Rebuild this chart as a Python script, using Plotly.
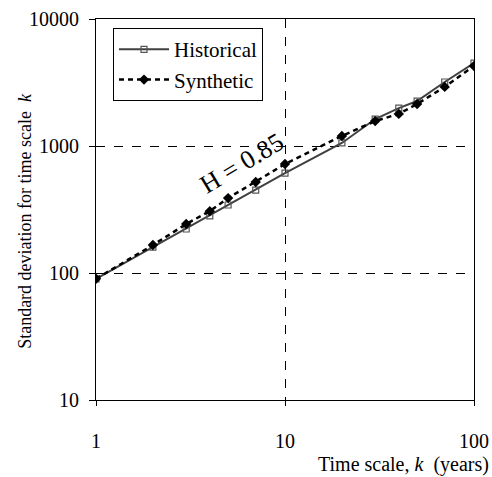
import plotly.graph_objects as go

k_values = [1, 2, 3, 4, 5, 7, 10, 20, 30, 40, 50, 70, 100]
historical = [90, 160, 222, 282, 343, 450, 612, 1057, 1630, 1990, 2260, 3190, 4500]
synthetic = [90, 166, 243, 307, 389, 521, 721, 1200, 1570, 1790, 2140, 2920, 4270]
x_ticks = [1, 10, 100]
y_ticks = [10, 100, 1000, 10000]

FONT = "Liberation Serif"

fig = go.Figure()
fig.add_trace(go.Scatter(
    x=k_values, y=historical, name="Historical", mode="lines+markers",
    line=dict(color="#404040", width=2),
    marker=dict(symbol="square-open", size=6, color="#555555", line=dict(width=1.2, color="#555555")),
))
fig.add_trace(go.Scatter(
    x=k_values, y=synthetic, name="Synthetic", mode="lines+markers",
    line=dict(color="black", width=2.5, dash="5px,4px"),
    marker=dict(symbol="diamond", size=8, color="black"),
))

fig.update_layout(
    width=492, height=477,
    margin=dict(l=96, r=18, t=19, b=77, autoexpand=False),
    plot_bgcolor="white", paper_bgcolor="white",
    font=dict(family=FONT, size=20, color="black"),
    showlegend=True,
    legend=dict(x=0.045, y=0.976, xanchor="left", yanchor="top",
                bordercolor="black", borderwidth=1, bgcolor="white",
                font=dict(size=21, family=FONT), tracegroupgap=0,
                itemwidth=50),
    xaxis=dict(type="log", range=[0, 2], tickvals=x_ticks, ticktext=[str(v) for v in x_ticks],
               showgrid=True, gridcolor="black", griddash="dash", gridwidth=1,
               showline=True, linecolor="black", linewidth=1, mirror=True,
               ticks="outside", ticklen=5, tickcolor="black", ticklabelstandoff=18,
               zeroline=False, automargin=False),
    yaxis=dict(type="log", range=[1, 4], tickvals=y_ticks, ticktext=[str(v) for v in y_ticks],
               showgrid=True, gridcolor="black", griddash="dash", gridwidth=1,
               showline=True, linecolor="black", linewidth=1, mirror=True,
               ticks="outside", ticklen=6, tickcolor="black", ticklabelstandoff=6,
               zeroline=False, automargin=False),
)

fig.add_annotation(text="H = 0.85", x=0.77, y=2.86, xref="x", yref="y",
                   showarrow=False, textangle=-31, font=dict(size=26, family=FONT))
fig.add_annotation(text="Time scale, <i>k</i>  (years)", xref="paper", yref="paper",
                   x=1.045, y=-0.17, xanchor="right", yanchor="middle", showarrow=False,
                   font=dict(size=20, family=FONT))
fig.add_annotation(text="Standard deviation for time scale  <i>k</i>", xref="paper", yref="paper",
                   x=-0.188, y=0.47, xanchor="center", yanchor="middle", textangle=-90,
                   showarrow=False, font=dict(size=18, family=FONT))

fig.write_html("out.html")
